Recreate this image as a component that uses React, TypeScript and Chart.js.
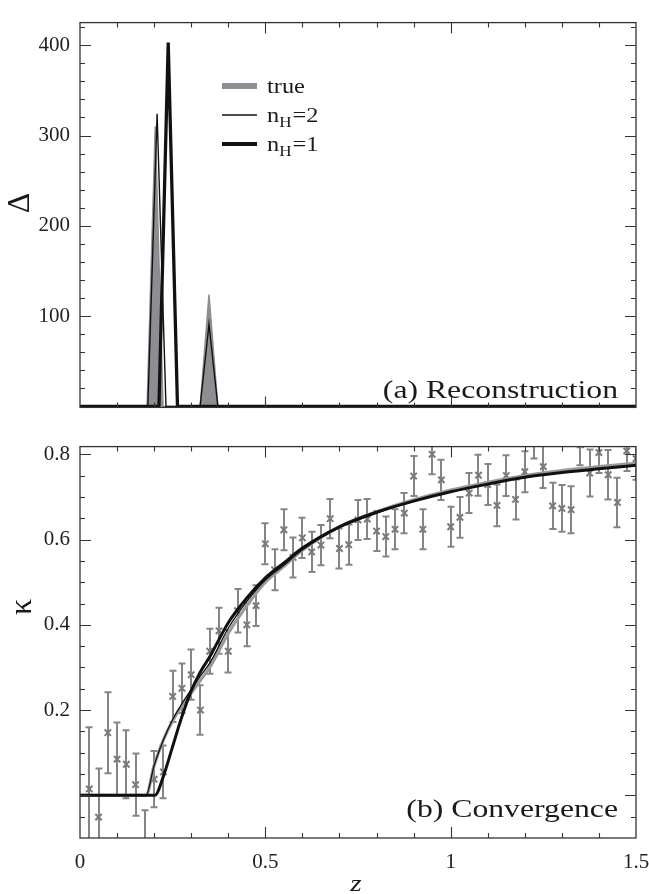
import React, { useEffect, useRef } from 'react';
import { Chart, registerables } from 'chart.js';
Chart.register(...registerables);

const SERIF = "'Liberation Serif', 'Times New Roman', serif";

// ---------- Panel (a) Reconstruction ----------
const trueZ = [0, 0.181, 0.203, 0.224, 0.324, 0.348, 0.372, 1.5];
const trueDelta = [0, 0, 310, 0, 0, 124, 0, 0];
const nH2Z = [0, 0.183, 0.208, 0.232, 0.324, 0.348, 0.372, 1.5];
const nH2Delta = [0, 0, 324, 0, 0, 91, 0, 0];
const nH1Z = [0, 0.213, 0.238, 0.263, 1.5];
const nH1Delta = [0, 0, 403, 0, 0];
const deltaTicks = [100, 200, 300, 400];
const deltaTickLabels = ['100', '200', '300', '400'];
const deltaMinor = [20, 40, 60, 80, 120, 140, 160, 180, 220, 240, 260, 280, 320, 340, 360, 380, 420];

// ---------- Panel (b) Convergence ----------
const obsZ = [0.025, 0.05, 0.075, 0.1, 0.125, 0.15, 0.175, 0.2, 0.225, 0.25, 0.275, 0.3, 0.325, 0.35, 0.375, 0.4, 0.425, 0.45, 0.475, 0.5, 0.525, 0.55, 0.575, 0.6, 0.625, 0.65, 0.675, 0.7, 0.725, 0.75, 0.775, 0.8, 0.825, 0.85, 0.875, 0.9, 0.925, 0.95, 0.975, 1.0, 1.025, 1.05, 1.075, 1.1, 1.125, 1.15, 1.175, 1.2, 1.225, 1.25, 1.275, 1.3, 1.325, 1.35, 1.375, 1.4, 1.425, 1.45, 1.475, 1.5];
const obsKappa = [0.015, -0.051, 0.147, 0.085, 0.073, 0.025, -0.11, 0.038, 0.055, 0.232, 0.251, 0.283, 0.2, 0.338, 0.386, 0.338, 0.433, 0.4, 0.445, 0.59, 0.529, 0.623, 0.558, 0.604, 0.571, 0.587, 0.649, 0.579, 0.588, 0.646, 0.648, 0.62, 0.607, 0.624, 0.662, 0.749, 0.624, 0.8, 0.74, 0.63, 0.652, 0.709, 0.751, 0.729, 0.68, 0.75, 0.694, 0.759, 0.837, 0.771, 0.679, 0.673, 0.67, 0.822, 0.756, 0.804, 0.752, 0.687, 0.808, 0.79];
const obsErr = [0.145, 0.114, 0.095, 0.086, 0.08, 0.073, 0.075, 0.066, 0.062, 0.06, 0.058, 0.059, 0.058, 0.053, 0.054, 0.05, 0.051, 0.05, 0.048, 0.048, 0.048, 0.048, 0.047, 0.047, 0.047, 0.047, 0.046, 0.047, 0.047, 0.047, 0.047, 0.047, 0.047, 0.047, 0.047, 0.047, 0.047, 0.047, 0.047, 0.047, 0.048, 0.047, 0.048, 0.048, 0.049, 0.048, 0.047, 0.048, 0.047, 0.05, 0.054, 0.055, 0.055, 0.048, 0.055, 0.048, 0.058, 0.058, 0.047, 0.05];

const kTrueZ = [0, 0.178, 0.2, 0.225, 0.25, 0.275, 0.3, 0.325, 0.35, 0.4, 0.45, 0.5, 0.55, 0.6, 0.7, 0.8, 0.9, 1.0, 1.1, 1.2, 1.3, 1.4, 1.5];
const kTrue = [0, 0, 0.07, 0.13, 0.175, 0.21, 0.24, 0.27, 0.3, 0.38, 0.445, 0.5, 0.537, 0.575, 0.63, 0.665, 0.693, 0.716, 0.734, 0.75, 0.762, 0.771, 0.779];
const kH2Z = [0, 0.178, 0.2, 0.225, 0.25, 0.275, 0.3, 0.325, 0.35, 0.4, 0.45, 0.5, 0.55, 0.6, 0.7, 0.8, 0.9, 1.0, 1.1, 1.2, 1.3, 1.4, 1.5];
const kH2 = [0, 0, 0.07, 0.13, 0.178, 0.215, 0.248, 0.28, 0.31, 0.392, 0.455, 0.505, 0.54, 0.576, 0.628, 0.662, 0.69, 0.712, 0.73, 0.746, 0.757, 0.766, 0.774];
const kH1Z = [0, 0.202, 0.225, 0.25, 0.275, 0.3, 0.325, 0.35, 0.4, 0.45, 0.5, 0.55, 0.6, 0.7, 0.8, 0.9, 1.0, 1.1, 1.2, 1.3, 1.4, 1.5];
const kH1 = [0, 0, 0.045, 0.115, 0.185, 0.245, 0.29, 0.325, 0.405, 0.463, 0.51, 0.545, 0.58, 0.63, 0.664, 0.69, 0.712, 0.73, 0.746, 0.757, 0.766, 0.774];
const kappaTicks = [0.2, 0.4, 0.6, 0.8];
const kappaTickLabels = ['0.2', '0.4', '0.6', '0.8'];
const kappaMajor = [0, 0.2, 0.4, 0.6, 0.8];
const kappaMinor = [-0.05, 0.05, 0.1, 0.15, 0.25, 0.3, 0.35, 0.45, 0.5, 0.55, 0.65, 0.7, 0.75];

const zTicks = [0, 0.5, 1, 1.5];
const zTickLabels = ['0', '0.5', '1', '1.5'];
const zMajor = [0.5, 1.0];
const zMinor = [0.1, 0.2, 0.3, 0.4, 0.6, 0.7, 0.8, 0.9, 1.1, 1.2, 1.3, 1.4];

const zip = (xs: number[], ys: number[]) => xs.map((x, i) => ({ x, y: ys[i] }));

const SX = 1.22; // horizontal stretch of the reference's typography

function stretchText(ctx: CanvasRenderingContext2D, text: string, x: number, y: number, font: string, align: CanvasTextAlign = 'left', sx = SX) {
  ctx.save();
  ctx.font = font;
  ctx.textAlign = align;
  ctx.textBaseline = 'alphabetic';
  ctx.translate(x, y);
  ctx.scale(sx, 1);
  ctx.fillText(text, 0, 0);
  const w = ctx.measureText(text).width * sx;
  ctx.restore();
  return w;
}

const framePlugin = {
  id: 'frame',
  afterDatasetsDraw(chart: any, _args: any, opts: any) {
    const { ctx, chartArea: a, scales } = chart;
    const xs = scales.x, ys = scales.y;
    ctx.save();
    ctx.strokeStyle = '#333';
    ctx.lineWidth = 1.3;
    ctx.strokeRect(a.left, a.top, a.right - a.left, a.bottom - a.top);
    ctx.lineWidth = 1.1;
    const xt = (vals: number[], len: number) => {
      vals.forEach((v) => {
        const p = Math.round(xs.getPixelForValue(v)) + 0.5;
        ctx.beginPath();
        ctx.moveTo(p, a.bottom); ctx.lineTo(p, a.bottom - len);
        ctx.moveTo(p, a.top); ctx.lineTo(p, a.top + len);
        ctx.stroke();
      });
    };
    const yt = (vals: number[], len: number) => {
      vals.forEach((v) => {
        const p = Math.round(ys.getPixelForValue(v)) + 0.5;
        ctx.beginPath();
        ctx.moveTo(a.left, p); ctx.lineTo(a.left + len, p);
        ctx.moveTo(a.right, p); ctx.lineTo(a.right - len, p);
        ctx.stroke();
      });
    };
    xt(opts.xMinor || [], 5);
    xt(opts.xMajor || [], 11);
    yt(opts.yMinor || [], 5);
    yt(opts.yMajor || [], 11);
    ctx.restore();
  },
};

const errorBarPlugin = {
  id: 'errorBars',
  beforeDatasetsDraw(chart: any) {
    const { ctx, chartArea: a, scales } = chart;
    ctx.save();
    ctx.beginPath();
    ctx.rect(a.left, a.top, a.right - a.left, a.bottom - a.top);
    ctx.clip();
    ctx.strokeStyle = '#858585';
    ctx.lineWidth = 2;
    chart.data.datasets.forEach((ds: any) => {
      if (!ds.errors) return;
      ds.data.forEach((pt: any, i: number) => {
        const e = ds.errors[i];
        const px = Math.round(scales.x.getPixelForValue(pt.x));
        const y1 = scales.y.getPixelForValue(pt.y - e);
        const y2 = scales.y.getPixelForValue(pt.y + e);
        ctx.beginPath();
        ctx.moveTo(px, y1); ctx.lineTo(px, y2);
        ctx.moveTo(px - 3.5, y1); ctx.lineTo(px + 3.5, y1);
        ctx.moveTo(px - 3.5, y2); ctx.lineTo(px + 3.5, y2);
        ctx.stroke();
      });
    });
    ctx.restore();
  },
};

const textPlugin = {
  id: 'texts',
  afterDraw(chart: any, _args: any, opts: any) {
    const { ctx } = chart;
    ctx.save();
    ctx.fillStyle = '#1a1a1a';
    (opts.items || []).forEach((t: any) => {
      if (t.rotate) {
        ctx.save();
        ctx.translate(t.x, t.y);
        ctx.rotate(-Math.PI / 2);
        ctx.font = t.font;
        ctx.textAlign = 'center';
        ctx.textBaseline = 'middle';
        ctx.fillText(t.text, 0, 0);
        ctx.restore();
      } else {
        stretchText(ctx, t.text, t.x, t.y, t.font, t.align || 'left');
      }
    });
    // legend
    const lg = opts.legend;
    if (lg) {
      const rows = lg.order.map((idx: number) => chart.data.datasets[idx]);
      rows.forEach((ds: any, r: number) => {
        const y = lg.y0 + r * lg.dy;
        ctx.save();
        ctx.strokeStyle = ds.borderColor;
        ctx.lineWidth = lg.widths[r];
        ctx.beginPath();
        ctx.moveTo(lg.x0, y); ctx.lineTo(lg.x1, y);
        ctx.stroke();
        ctx.restore();
        const parts = String(ds.label).split('_');
        let cx = lg.tx;
        const base = y + 7;
        const mainFont = `20px ${SERIF}`;
        if (parts.length === 1) {
          stretchText(ctx, parts[0], cx, base, mainFont);
        } else {
          const sub = parts[1].charAt(0);
          const rest = parts[1].slice(1);
          cx += stretchText(ctx, parts[0], cx, base, mainFont);
          cx += stretchText(ctx, sub, cx, base + 5, `14px ${SERIF}`);
          stretchText(ctx, rest, cx + 1, base, mainFont);
        }
      });
    }
    ctx.restore();
  },
};

const tickFont = { family: SERIF, size: 21 };

function topConfig(): any {
  return {
    type: 'scatter',
    data: {
      datasets: [
        { label: 'n_H=1', data: zip(nH1Z, nH1Delta), showLine: true, borderColor: '#111111', borderWidth: 3.3, pointRadius: 0, fill: false },
        { label: 'n_H=2', data: zip(nH2Z, nH2Delta), showLine: true, borderColor: '#111111', borderWidth: 1.4, pointRadius: 0, fill: false },
        { label: 'true', data: zip(trueZ, trueDelta), showLine: true, borderColor: '#8c8e92', backgroundColor: '#8c8e92', borderWidth: 1.5, pointRadius: 0, fill: 'origin' },
      ],
    },
    options: {
      responsive: false,
      animation: false,
      events: [],
      layout: { padding: { left: 0, right: 13, top: 9, bottom: 9 } },
      plugins: {
        legend: { display: false },
        tooltip: { enabled: false },
        frame: { xMinor: zMinor, xMajor: zMajor, yMinor: deltaMinor, yMajor: deltaTicks },
        texts: {
          items: [
            { text: '(a) Reconstruction', x: 618, y: 398, font: `26px ${SERIF}`, align: 'right' },
            { text: '\u0394', x: 21, y: 203, font: `32px ${SERIF}`, rotate: true },
          ],
          legend: { order: [2, 1, 0], widths: [6, 1.3, 4], x0: 222, x1: 257, tx: 267, y0: 86, dy: 29 },
        },
      },
      scales: {
        x: { type: 'linear', min: 0, max: 1.5, display: false },
        y: {
          type: 'linear', min: -1, max: 425,
          grid: { display: false, drawTicks: false },
          border: { display: false },
          ticks: { font: tickFont, color: '#222', padding: 10, callback: (_v: any, i: number) => deltaTickLabels[i] },
          afterBuildTicks: (s: any) => { s.ticks = deltaTicks.map((v) => ({ value: v })); },
          afterFit: (s: any) => { s.width = 80; },
        },
      },
    },
    plugins: [framePlugin, textPlugin],
  };
}

function bottomConfig(): any {
  return {
    type: 'scatter',
    data: {
      datasets: [
        { label: 'n_H=2', data: zip(kH2Z, kH2), showLine: true, borderColor: '#111111', borderWidth: 1.3, pointRadius: 0, fill: false, cubicInterpolationMode: 'monotone' },
        { label: 'n_H=1', data: zip(kH1Z, kH1), showLine: true, borderColor: '#111111', borderWidth: 3, pointRadius: 0, fill: false, cubicInterpolationMode: 'monotone' },
        { label: 'true', data: zip(kTrueZ, kTrue), showLine: true, borderColor: '#9a9a9a', borderWidth: 3.2, pointRadius: 0, fill: false, cubicInterpolationMode: 'monotone' },
        { label: 'measured', data: zip(obsZ, obsKappa), errors: obsErr, showLine: false, pointStyle: 'crossRot', pointRadius: 4.5, borderColor: '#7a7a7a', borderWidth: 2, backgroundColor: '#7a7a7a' },
      ],
    },
    options: {
      responsive: false,
      animation: false,
      events: [],
      layout: { padding: { left: 0, right: 13, top: 3, bottom: 0 } },
      plugins: {
        legend: { display: false },
        tooltip: { enabled: false },
        frame: { xMinor: zMinor, xMajor: zMajor, yMinor: kappaMinor, yMajor: kappaMajor },
        texts: {
          items: [
            { text: '(b) Convergence', x: 618, y: 393, font: `26px ${SERIF}`, align: 'right' },
            { text: '\u03BA', x: 23, y: 183, font: `32px ${SERIF}`, rotate: true },
            { text: 'z', x: 356, y: 467, font: `italic 24px ${SERIF}`, align: 'center' },
          ],
        },
      },
      scales: {
        x: {
          type: 'linear', min: 0, max: 1.5,
          grid: { display: false, drawTicks: false },
          border: { display: false },
          ticks: { font: tickFont, color: '#222', padding: 12, maxRotation: 0, autoSkip: false, callback: (_v: any, i: number) => zTickLabels[i] },
          afterBuildTicks: (s: any) => { s.ticks = zTicks.map((v) => ({ value: v })); },
          afterFit: (s: any) => { s.height = 56; s.paddingLeft = 0; s.paddingRight = 0; },
        },
        y: {
          type: 'linear', min: -0.1, max: 0.818,
          grid: { display: false, drawTicks: false },
          border: { display: false },
          ticks: { font: tickFont, color: '#222', padding: 10, callback: (_v: any, i: number) => kappaTickLabels[i] },
          afterBuildTicks: (s: any) => { s.ticks = kappaTicks.map((v) => ({ value: v })); },
          afterFit: (s: any) => { s.width = 80; },
        },
      },
    },
    plugins: [errorBarPlugin, framePlugin, textPlugin],
  };
}

export default function App() {
  const topRef = useRef<HTMLCanvasElement>(null);
  const botRef = useRef<HTMLCanvasElement>(null);
  useEffect(() => {
    const c1 = new Chart(topRef.current as HTMLCanvasElement, topConfig());
    const c2 = new Chart(botRef.current as HTMLCanvasElement, bottomConfig());
    return () => {
      c1.destroy();
      c2.destroy();
    };
  }, []);
  return (
    <div style={{ position: 'absolute', left: 0, top: 0, width: 649, height: 894, background: '#fff', overflow: 'hidden' }}>
      <canvas ref={topRef} width={649} height={430} style={{ position: 'absolute', left: 0, top: 0 }} />
      <canvas ref={botRef} width={649} height={470} style={{ position: 'absolute', left: 0, top: 424 }} />
    </div>
  );
}
